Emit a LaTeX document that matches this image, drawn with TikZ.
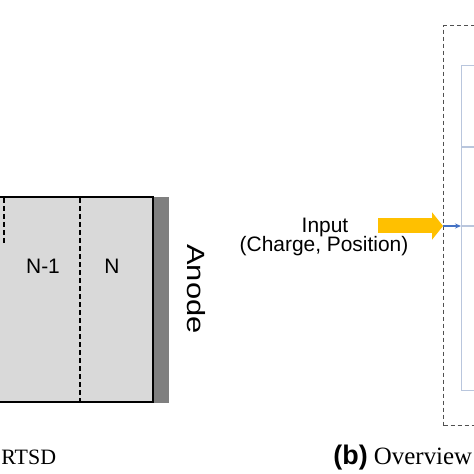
\documentclass[tikz,border=0pt]{standalone}
\usepackage{fontspec}
\setmainfont{Liberation Serif}
\setsansfont{Liberation Sans}
\usetikzlibrary{arrows.meta}
\usetikzlibrary{positioning}

\definecolor{cellgray}{HTML}{D9D9D9}
\definecolor{anodegray}{HTML}{7F7F7F}
\definecolor{feedyellow}{HTML}{FFC000}
\definecolor{linkblue}{HTML}{4472C4}
\definecolor{coreblue}{HTML}{B9C6DD}
\definecolor{framegray}{HTML}{505050}

\tikzset{
    cut/.style={line width=0.7pt, dash pattern=on 2.5bp off 1.5bp},
    frame/.style={draw=framegray, line width=0.6pt, dash pattern=on 2bp off 1.5bp, inner sep=0pt},
    core/.style={draw=coreblue, line width=0.6pt, inner sep=0pt}
}

\begin{document}
\begin{tikzpicture}[x=0.5bp,y=-0.5bp]
\useasboundingbox[fill=white] (0,0) rectangle (474,474);

% detector
\fill[cellgray] (-20,197) rectangle (153,402);
\fill[anodegray] (153,197) rectangle (169,403);
\draw[line width=1.4pt] (-20,197) rectangle (153,402);
\draw[cut] (4,198) -- (4,245);
\draw[cut] (80,198) -- (80,401);

\begin{scope}[every node/.style={font=\sffamily\fontsize{10.5}{12.6}\selectfont}]
    \node (cellA) at (43,266) {N-1};
    \node (cellB) at (112,266) {N};
    \node[anchor=base] (input) at (325,233) {Input};
    \node[anchor=base] (inval) at (324,252) {(Charge, Position)};
    \node[font=\sffamily\fontsize{12.5}{15}\selectfont, rotate=-90, xscale=1.24] (anode) at (196,289) {Anode};
    \end{scope}

% overview block
\node[frame, anchor=north west, minimum width=130bp, minimum height=200bp] (frame) at (443,25) {};
\node[core, anchor=north west, minimum width=110bp, minimum height=162.5bp] (core) at (461,65) {};
\coordinate (split) at (461,147);
\coordinate (feed) at (378,226);
\coordinate (in) at (443,226);
\draw[core] (split) -- ++(120,0);
\draw[core] (core.west |- in) -- ++(120,0);

\begin{scope}[every edge/.style={draw}]
    \path [-{Triangle[length=5.5bp, width=13.5bp]}] (feed) edge [draw=feedyellow, line width=7.5bp] (in);
    \path [-{Stealth[length=3bp, width=2.5bp]}] (in) edge [draw=linkblue, line width=0.6pt] (core.west |- in);
    \end{scope}

% captions
\node[anchor=base west, inner sep=0pt, font=\fontsize{11}{13}\selectfont] (capA) at (1,464) {RTSD};
\node[anchor=base west, inner sep=0pt, font=\fontsize{12.5}{15}\selectfont] (capB) at (333,464) {\textsf{\bfseries\fontsize{13.5}{15}\selectfont (b)} Overview};

\end{tikzpicture}
\end{document}
